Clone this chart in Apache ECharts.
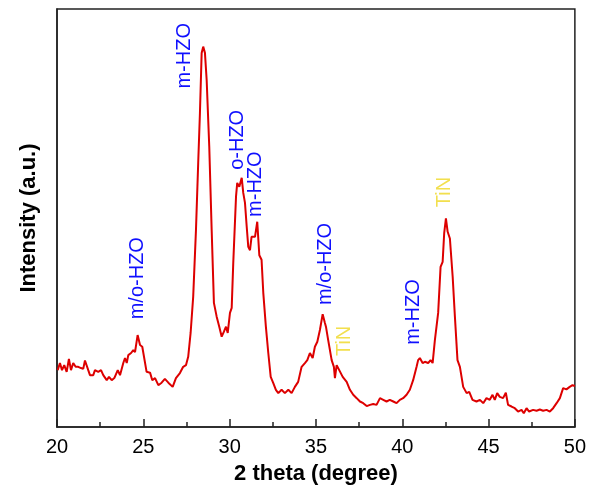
<!DOCTYPE html>
<html>
<head>
<meta charset="utf-8">
<script src="https://cdn.jsdelivr.net/npm/echarts@6/dist/echarts.min.js"></script>
<style>
html,body{margin:0;padding:0;background:#fff;}
#chart{width:589px;height:493px;}
</style>
</head>
<body>
<div id="chart"></div>
<script>
// 2 theta (degree)
const twoTheta = [20.04,20.17,20.29,20.42,20.56,20.69,20.81,20.94,21.08,21.23,21.39,21.52,21.62,21.81,21.91,22.10,22.20,22.39,22.55,22.68,22.88,23.01,23.17,23.32,23.52,23.65,23.84,23.94,24.04,24.13,24.29,24.42,24.52,24.67,24.81,24.94,25.19,25.39,25.52,25.68,25.87,26.06,26.25,26.45,26.70,26.89,27.12,27.31,27.47,27.60,27.74,27.89,28.05,28.18,28.28,28.38,28.47,28.57,28.67,28.82,28.96,29.09,29.25,29.40,29.54,29.67,29.79,29.89,30.02,30.12,30.21,30.37,30.44,30.56,30.70,30.79,30.89,30.99,31.08,31.18,31.27,31.37,31.47,31.60,31.72,31.85,31.95,32.10,32.24,32.38,32.53,32.68,32.82,33.01,33.20,33.40,33.59,33.78,33.97,34.17,34.36,34.50,34.65,34.81,34.94,35.08,35.23,35.39,35.52,35.58,35.71,35.91,36.04,36.10,36.20,36.35,36.55,36.78,36.97,37.16,37.36,37.55,37.74,37.94,38.13,38.32,38.51,38.71,38.90,39.09,39.28,39.48,39.67,39.86,40.05,40.25,40.44,40.63,40.83,40.92,41.02,41.18,41.31,41.50,41.64,41.76,41.89,42.08,42.22,42.34,42.43,42.53,42.63,42.76,42.92,43.05,43.20,43.34,43.53,43.73,43.88,44.07,44.30,44.50,44.69,44.88,45.07,45.23,45.36,45.50,45.65,45.84,46.00,46.13,46.33,46.52,46.71,46.91,47.04,47.20,47.35,47.58,47.78,47.97,48.16,48.36,48.55,48.74,48.94,49.13,49.32,49.51,49.70,49.86,50.00];
// Intensity (a.u.)
const intensity = [13.6,15.3,13.6,14.8,13.2,16.3,13.6,15.3,14.4,14.4,14.1,13.9,15.9,13.6,12.4,12.4,13.6,13.2,13.6,12.4,11.2,12.0,11.2,11.7,13.6,12.4,15.3,16.5,15.3,17.2,17.7,18.4,17.9,22.0,19.6,19.2,13.2,13.0,11.2,11.7,10.0,10.6,11.5,10.6,9.6,11.7,12.9,14.4,14.8,16.8,22.5,31.2,47.1,63.2,75.1,89.5,91.0,89.5,83.0,67.1,47.1,29.7,26.4,24.0,21.6,22.8,24.0,22.5,27.3,28.5,39.2,55.1,58.4,57.5,59.6,56.0,53.6,47.9,43.1,42.3,45.5,45.9,45.5,49.1,41.1,40.0,32.1,24.0,17.7,12.0,10.5,8.9,8.1,8.9,8.1,8.9,8.1,9.6,10.8,14.4,15.3,16.0,17.7,16.5,19.2,20.4,23.2,27.0,24.9,24.0,20.8,16.0,14.4,11.7,14.8,13.6,12.0,10.8,8.9,7.7,6.9,6.1,5.7,5.0,5.3,5.5,5.3,6.9,6.5,6.1,6.5,6.1,5.7,6.5,6.9,7.7,8.9,11.2,14.4,16.0,16.5,15.3,15.6,15.3,16.0,15.3,20.8,27.3,38.3,39.5,46.4,49.9,46.7,45.1,36.0,26.4,16.0,14.4,9.6,8.1,8.4,6.5,6.1,6.5,5.7,6.9,6.5,7.7,6.5,8.1,7.2,6.9,8.2,5.3,4.9,4.5,3.7,4.1,3.3,4.5,3.7,4.1,3.9,4.2,3.9,4.1,3.7,4.5,5.7,6.9,9.3,9.0,9.6,10.0,9.8];

// Peak annotations
const peakLabels = ['m/o-HZO','m-HZO','o-HZO','m-HZO','m/o-HZO','TiN','m-HZO','TiN'];
const peakX = [24.69,27.38,30.45,31.52,35.55,36.68,40.67,42.47];
const peakY = [35.6,88.8,68.7,58.1,39.0,20.6,27.5,56.2];
const peakPhase = ['HZO','HZO','HZO','HZO','HZO','TiN','HZO','TiN'];

const xTicks = [20,25,30,35,40,45,50];

const phaseColor = {HZO:'#1010ff', TiN:'#f2df4e'};

const chart = echarts.init(document.getElementById('chart'), null, {renderer:'canvas'});
chart.setOption({
  backgroundColor:'#ffffff',
  animation:false,
  grid:{left:57,right:14,top:9,bottom:66,show:true,borderColor:'#222',borderWidth:1.5,backgroundColor:'transparent'},
  xAxis:{
    type:'value',min:xTicks[0],max:xTicks[xTicks.length-1],interval:5,
    name:'2 theta (degree)',nameLocation:'middle',nameGap:36,
    nameTextStyle:{fontFamily:'Liberation Sans, Arial',fontSize:22,fontWeight:'bold',color:'#000'},
    axisLine:{show:true,lineStyle:{color:'#222',width:1.5}},
    axisTick:{show:true,inside:true,length:8,lineStyle:{color:'#222',width:1.5}},
    minorTick:{show:true,splitNumber:2,length:5,lineStyle:{color:'#222',width:1.5}},
    axisLabel:{fontFamily:'Liberation Sans, Arial',fontSize:20,color:'#000',margin:10},
    splitLine:{show:false}
  },
  yAxis:{
    type:'value',min:0,max:100,
    name:'Intensity (a.u.)',nameLocation:'middle',nameGap:17,
    nameTextStyle:{fontFamily:'Liberation Sans, Arial',fontSize:22,fontWeight:'bold',color:'#000'},
    axisLine:{show:true,lineStyle:{color:'#222',width:1.5}},
    axisTick:{show:false},axisLabel:{show:false},splitLine:{show:false}
  },
  series:[
    {
      type:'line',
      data:twoTheta.map((x,i)=>[x,intensity[i]]),
      showSymbol:false,symbol:'none',
      lineStyle:{color:'#dd0000',width:2},
      silent:true
    },
    {
      type:'scatter',
      symbolSize:0,
      itemStyle:{opacity:1},
      data:peakX.map((x,i)=>({value:[x,peakY[i]],name:peakLabels[i],
        label:{color:phaseColor[peakPhase[i]]}})),
      label:{show:true,position:'inside',rotate:90,formatter:p=>p.name,
        textBorderWidth:0,textShadowBlur:0,opacity:1,
        fontFamily:'Liberation Sans, Arial',fontSize:20,align:'center',verticalAlign:'middle'},
      silent:true
    }
  ]
});
</script>
</body>
</html>
